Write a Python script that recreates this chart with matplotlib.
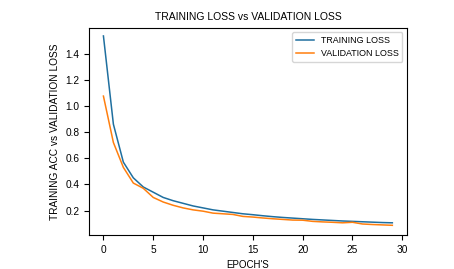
import matplotlib
matplotlib.use("Agg")
import matplotlib.pyplot as plt

# valores
epochs = list(range(30))
training_loss = [1.535, 0.86, 0.57, 0.45, 0.38, 0.34, 0.30, 0.275, 0.255, 0.235,
                 0.22, 0.205, 0.195, 0.185, 0.175, 0.168, 0.16, 0.153, 0.147, 0.142,
                 0.137, 0.132, 0.128, 0.124, 0.12, 0.117, 0.114, 0.111, 0.108, 0.106]
validation_loss = [1.075, 0.72, 0.53, 0.41, 0.37, 0.30, 0.265, 0.24, 0.22, 0.205,
                   0.195, 0.18, 0.175, 0.17, 0.155, 0.15, 0.143, 0.137, 0.132, 0.127,
                   0.126, 0.117, 0.113, 0.11, 0.106, 0.11, 0.097, 0.093, 0.09, 0.087]

plt.rcParams["font.family"] = ["Liberation Sans", "DejaVu Sans"]
plt.rcParams["font.size"] = 7.3
fig = plt.figure(figsize=(4.54, 2.69), dpi=100)
ax = fig.add_axes([0.196, 0.126, 0.70, 0.77])
ax.plot(epochs, training_loss, color="#1f6f9f", linewidth=1.1, label="TRAINING LOSS")
ax.plot(epochs, validation_loss, color="#ff7f0e", linewidth=1.1, label="VALIDATION LOSS")
ax.set_ylim(0.012, 1.596)
ax.set_title("TRAINING LOSS vs VALIDATION LOSS", fontsize=7.5)
ax.set_xlabel("EPOCH'S", fontsize=7)
ax.set_ylabel("TRAINING ACC vs VALIDATION LOSS")
ax.legend(loc="upper right", fontsize=6.4)
fig.savefig("out.png", dpi=100)
